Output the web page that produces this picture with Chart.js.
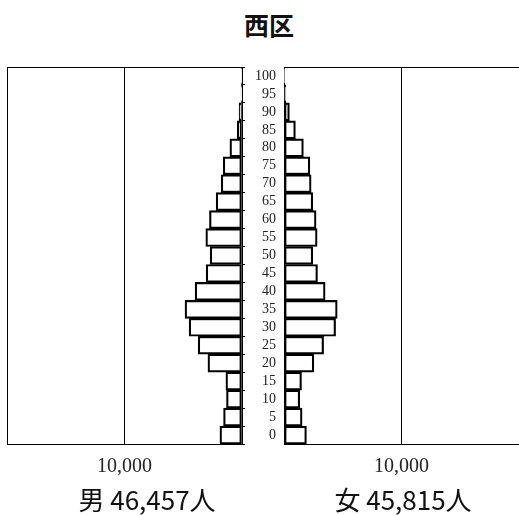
<!DOCTYPE html>
<html>
<head>
<meta charset="utf-8">
<script src="https://cdn.jsdelivr.net/npm/chart.js@4/dist/chart.umd.min.js"></script>
<style>
  body { margin: 0; background: #fff; }
  #wrap { position: relative; width: 519px; height: 515px; overflow: hidden; }
  canvas { position: absolute; top: 0; }
  .txt { position: absolute; font-family: "Noto Sans CJK JP", sans-serif; color: #111; text-align: center; white-space: nowrap; line-height: 1; }
</style>
</head>
<body>
<div id="wrap">
  <div class="txt" id="title" style="left:219px;width:100px;top:12px;font-size:25px;font-weight:bold;"></div>
  <canvas id="maleChart" width="276" height="515" style="left:0;"></canvas>
  <canvas id="femaleChart" width="243" height="515" style="left:276px;"></canvas>
  <div class="txt" id="maleLabel" style="left:47px;width:200px;top:486px;font-size:26px;"></div>
  <div class="txt" id="femaleLabel" style="left:303px;width:200px;top:486px;font-size:26px;"></div>
</div>
<script>
// 年齢階級 (5歳刻み)
const ages = ['0', '5', '10', '15', '20', '25', '30', '35', '40', '45', '50',
              '55', '60', '65', '70', '75', '80', '85', '90', '95', '100'];
const male = [1880, 1570, 1320, 1370, 2900, 3730, 4500, 4850, 3990, 3050, 2710,
              3080, 2770, 2200, 1770, 1600, 1030, 400, 250, 80, 10];
const female = [1910, 1540, 1340, 1490, 2540, 3370, 4390, 4530, 3500, 2850, 2450,
                2820, 2730, 2450, 2310, 2200, 1650, 970, 460, 150, 20];
const xTicks = [0, 10000, 20000];
const xMax = 20000;
const titleText = '西区';
const maleTotal = '男 46,457人';
const femaleTotal = '女 45,815人';

document.getElementById('title').textContent = titleText;
document.getElementById('maleLabel').textContent = maleTotal;
document.getElementById('femaleLabel').textContent = femaleTotal;

const serif = 'Liberation Serif';
const clear = 'rgba(0,0,0,0)';

// 上辺の枠線 (chartArea の上端)
const topBorder = {
    id: 'topBorder',
    afterDraw(chart) {
        const { ctx, chartArea } = chart;
        ctx.save();
        ctx.strokeStyle = '#000';
        ctx.lineWidth = 1;
        ctx.beginPath();
        ctx.moveTo(chartArea.left, Math.round(chartArea.top) + 0.5);
        ctx.lineTo(chartArea.right, Math.round(chartArea.top) + 0.5);
        ctx.stroke();
        ctx.restore();
    }
};

function barDataset(values) {
    return {
        data: values,
        backgroundColor: '#fff',
        borderColor: '#000',
        borderWidth: 2.2,
        borderSkipped: false,
        barPercentage: 1,
        categoryPercentage: 1
    };
}

function xScale(reverse, gridColors) {
    return {
        reverse: reverse,
        min: 0,
        max: xMax,
        afterBuildTicks: s => { s.ticks = xTicks.map(v => ({ value: v })); },
        afterFit: s => { s.height = 71; s.paddingLeft = 0; s.paddingRight = 0; },
        ticks: {
            autoSkip: false,
            maxRotation: 0,
            padding: 11,
            color: '#222',
            font: { family: serif, size: 20 },
            callback: v => v === 10000 ? '10,000' : ''
        },
        grid: { drawTicks: false, lineWidth: 1, color: gridColors },
        border: { color: '#000', width: 1 }
    };
}

// 男 (左側、年齢ラベル付き)
new Chart(document.getElementById('maleChart').getContext('2d'), {
    type: 'bar',
    data: { labels: ages, datasets: [barDataset(male)] },
    options: {
        indexAxis: 'y',
        responsive: false,
        animation: false,
        layout: { padding: { left: 7, top: 67, right: 0, bottom: 0 } },
        plugins: { legend: { display: false }, tooltip: { enabled: false } },
        scales: {
            x: xScale(true, ['#000', '#000', '#000']),
            y: {
                position: 'right',
                reverse: true,
                offset: true,
                afterFit: s => { s.width = 34; },
                ticks: {
                    autoSkip: false,
                    crossAlign: 'far',
                    color: '#222',
                    font: { family: serif, size: 14 }
                },
                grid: {
                    offset: true,
                    drawOnChartArea: false,
                    drawTicks: true,
                    tickLength: 3,
                    tickColor: '#000',
                    color: '#000'
                },
                border: { color: '#000', width: 1 }
            }
        }
    },
    plugins: [topBorder]
});

// 女 (右側)
new Chart(document.getElementById('femaleChart').getContext('2d'), {
    type: 'bar',
    data: { labels: ages, datasets: [barDataset(female)] },
    options: {
        indexAxis: 'y',
        responsive: false,
        animation: false,
        layout: { padding: { left: 0, top: 67, right: 0, bottom: 0 } },
        plugins: { legend: { display: false }, tooltip: { enabled: false } },
        scales: {
            x: xScale(false, ['#000', '#000', clear]),
            y: {
                position: 'left',
                reverse: true,
                offset: true,
                afterFit: s => { s.width = 8; },
                ticks: { display: false },
                grid: { display: false, drawTicks: false },
                border: { color: '#000', width: 1 }
            }
        }
    },
    plugins: [topBorder]
});
</script>
</body>
</html>
